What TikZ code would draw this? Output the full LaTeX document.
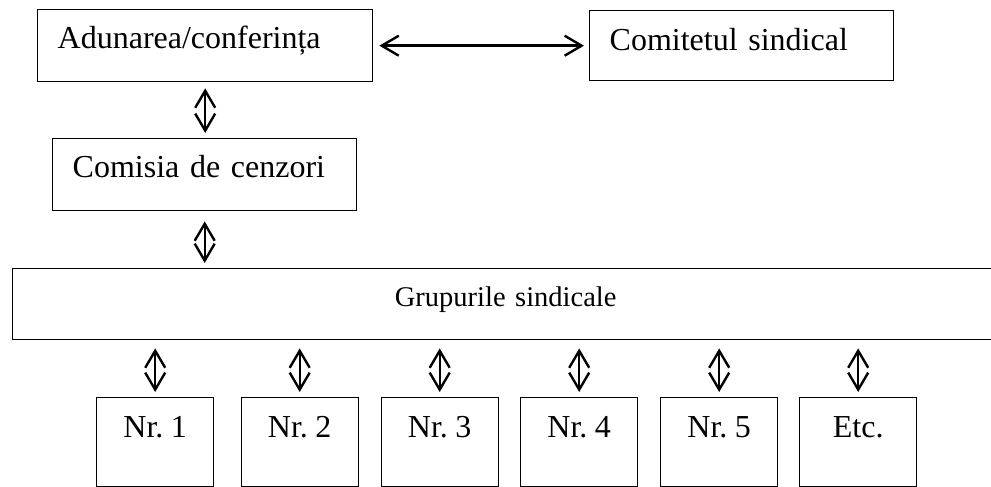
\documentclass[tikz,border=0pt]{standalone}
\usepackage{fontspec}
\setmainfont{Liberation Serif}[WordSpace=0.6]
\usetikzlibrary{arrows.meta}

\begin{document}
\begin{tikzpicture}[x=1pt,y=-1pt]
\tikzstyle{every node}+=[inner sep=0pt]
\tikzstyle{box}=[draw=black, line width=1.4pt, anchor=north west, font=\fontsize{32}{36}\selectfont]
\tikzstyle{lbox}=[box, inner xsep=20pt, align=left, text height=39pt, text depth=33pt]
\tikzstyle{nrbox}=[box, minimum width=117pt, text height=40pt, text depth=49pt]
\tikzstyle{arr}=[black, line width=2.4pt, {Straight Barb[length=17pt,width=20pt]}-{Straight Barb[length=17pt,width=20pt]}, shorten <=6pt, shorten >=5pt]
\useasboundingbox (0,0) rectangle (991,487);
% upper part
\node [lbox, text width=295pt] (adun) at (37,9) {Adunarea/conferința};
\node [lbox, text width=264pt, text height=40pt, text depth=30pt] (comit) at (589,10) {Comitetul sindical};
\node [lbox, text width=264pt] (cenz) at (52,138) {Comisia de cenzori};
\node [box, text width=986pt, align=center, text height=38pt, text depth=33pt, font=\fontsize{28.5}{32}\selectfont] (grup) at (12,268) {Grupurile sindicale};
\draw [arr] (adun) -- (comit);
\draw [arr] (adun.south) -- (adun.south |- cenz.north);
\draw [arr, shorten <=10pt] (cenz.south) -- (cenz.south |- grup.north);
% groups
\foreach \x/\t/\n in {96/Nr. 1/nr1, 240.5/Nr. 2/nr2, 380.5/Nr. 3/nr3, 520/Nr. 4/nr4, 660/Nr. 5/nr5, 799/Etc./etc}
{
\node [nrbox] (\n) at (\x,397) {\t};
\draw [arr, shorten <=8pt] (\n.north |- grup.south) -- (\n.north);
}
\end{tikzpicture}
\end{document}
